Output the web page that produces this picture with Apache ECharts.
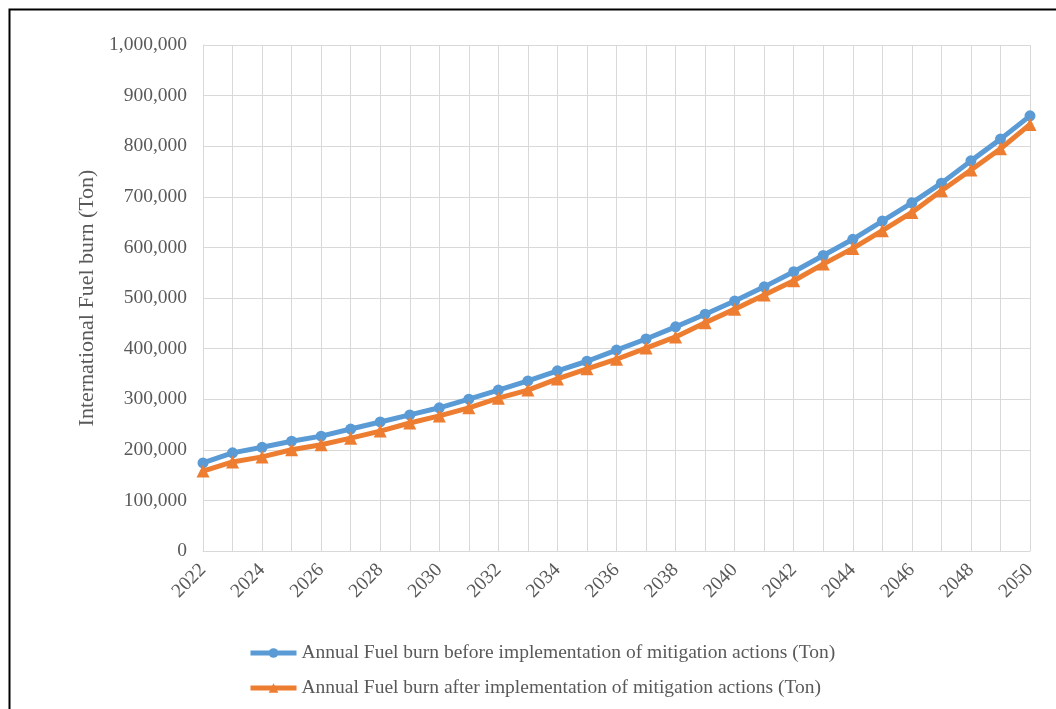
<!DOCTYPE html>
<html>
<head>
<meta charset="utf-8">
<title>International Fuel burn</title>
<script src="https://cdn.jsdelivr.net/npm/echarts@6/dist/echarts.min.js"></script>
<style>
  html, body { margin: 0; padding: 0; background: #ffffff; }
  #chart { width: 1056px; height: 709px; }
</style>
</head>
<body>
<div id="chart"></div>
<script>
// Years on the horizontal axis
const years = [
  '2022', '2023', '2024', '2025', '2026', '2027', '2028', '2029', '2030', '2031',
  '2032', '2033', '2034', '2035', '2036', '2037', '2038', '2039', '2040', '2041',
  '2042', '2043', '2044', '2045', '2046', '2047', '2048', '2049', '2050'
];

// Annual fuel burn before mitigation actions (Ton)
const fuelBefore = [
  174000, 194000, 205000, 217000, 227000, 241000, 255000, 269000, 283000, 300000,
  318000, 336000, 356000, 375000, 397000, 419000, 443000, 468000, 494000, 522000,
  552000, 584000, 616000, 652000, 688000, 727000, 771000, 814000, 860000
];

// Annual fuel burn after mitigation actions (Ton)
const fuelAfter = [
  158000, 176000, 186000, 200000, 210000, 223000, 237000, 253000, 267000, 283000,
  302000, 318000, 340000, 360000, 379000, 401000, 423000, 451000, 478000, 506000,
  534000, 567000, 598000, 633000, 669000, 712000, 753000, 795000, 843000
];

const seriesNames = [
  'Annual Fuel burn before implementation of mitigation actions (Ton)',
  'Annual Fuel burn after implementation of mitigation actions (Ton)'
];

const yAxisTitle = 'International Fuel burn (Ton)';

const textColor = '#595959';
const gridColor = '#d9d9d9';
const font = '"Liberation Serif", "Times New Roman", serif';

const chart = echarts.init(document.getElementById('chart'), null, { renderer: 'canvas' });

chart.setOption({
  animation: false,
  backgroundColor: '#ffffff',
  textStyle: { fontFamily: font },
  graphic: [{
    type: 'rect',
    left: 7,
    top: 7,
    shape: { width: 1100, height: 800 },
    style: { fill: 'none', stroke: '#000000', lineWidth: 2 },
    silent: true,
    z: 100
  }],
  grid: {
    left: 203,
    right: 26,
    top: 45,
    bottom: 158,
    containLabel: false
  },
  legend: {
    orient: 'vertical',
    left: 243,
    top: 638,
    padding: 5,
    itemWidth: 46,
    itemHeight: 12,
    itemGap: 15,
    lineStyle: { width: 5 },
    textStyle: { color: textColor, fontSize: 19.5, fontFamily: font },
    data: seriesNames
  },
  xAxis: {
    type: 'category',
    data: years,
    boundaryGap: false,
    axisLine: { show: true, lineStyle: { color: gridColor, width: 1 } },
    axisTick: { show: false },
    axisLabel: {
      interval: 1,
      rotate: 45,
      color: textColor,
      fontSize: 19.5,
      fontFamily: font,
      margin: 16
    },
    splitLine: { show: true, interval: 0, lineStyle: { color: gridColor, width: 1 } }
  },
  yAxis: {
    type: 'value',
    min: 0,
    max: 1000000,
    interval: 100000,
    name: yAxisTitle,
    nameLocation: 'middle',
    nameGap: 95,
    nameTextStyle: { color: textColor, fontSize: 22, fontFamily: font },
    axisLine: { show: true, lineStyle: { color: gridColor, width: 1 } },
    axisTick: { show: false },
    axisLabel: {
      color: textColor,
      fontSize: 19.5,
      fontFamily: font,
      margin: 16,
      formatter: v => v.toLocaleString('en-US')
    },
    splitLine: { show: true, lineStyle: { color: gridColor, width: 1 } }
  },
  series: [
    {
      name: seriesNames[0],
      type: 'line',
      data: fuelBefore,
      symbol: 'circle',
      symbolSize: 11,
      showAllSymbol: true,
      lineStyle: { color: '#5b9bd5', width: 5 },
      itemStyle: { color: '#5b9bd5' },
      z: 3
    },
    {
      name: seriesNames[1],
      type: 'line',
      data: fuelAfter,
      symbol: 'triangle',
      symbolSize: 13,
      showAllSymbol: true,
      lineStyle: { color: '#ed7d31', width: 5 },
      itemStyle: { color: '#ed7d31' },
      z: 4
    }
  ]
});
</script>
</body>
</html>
